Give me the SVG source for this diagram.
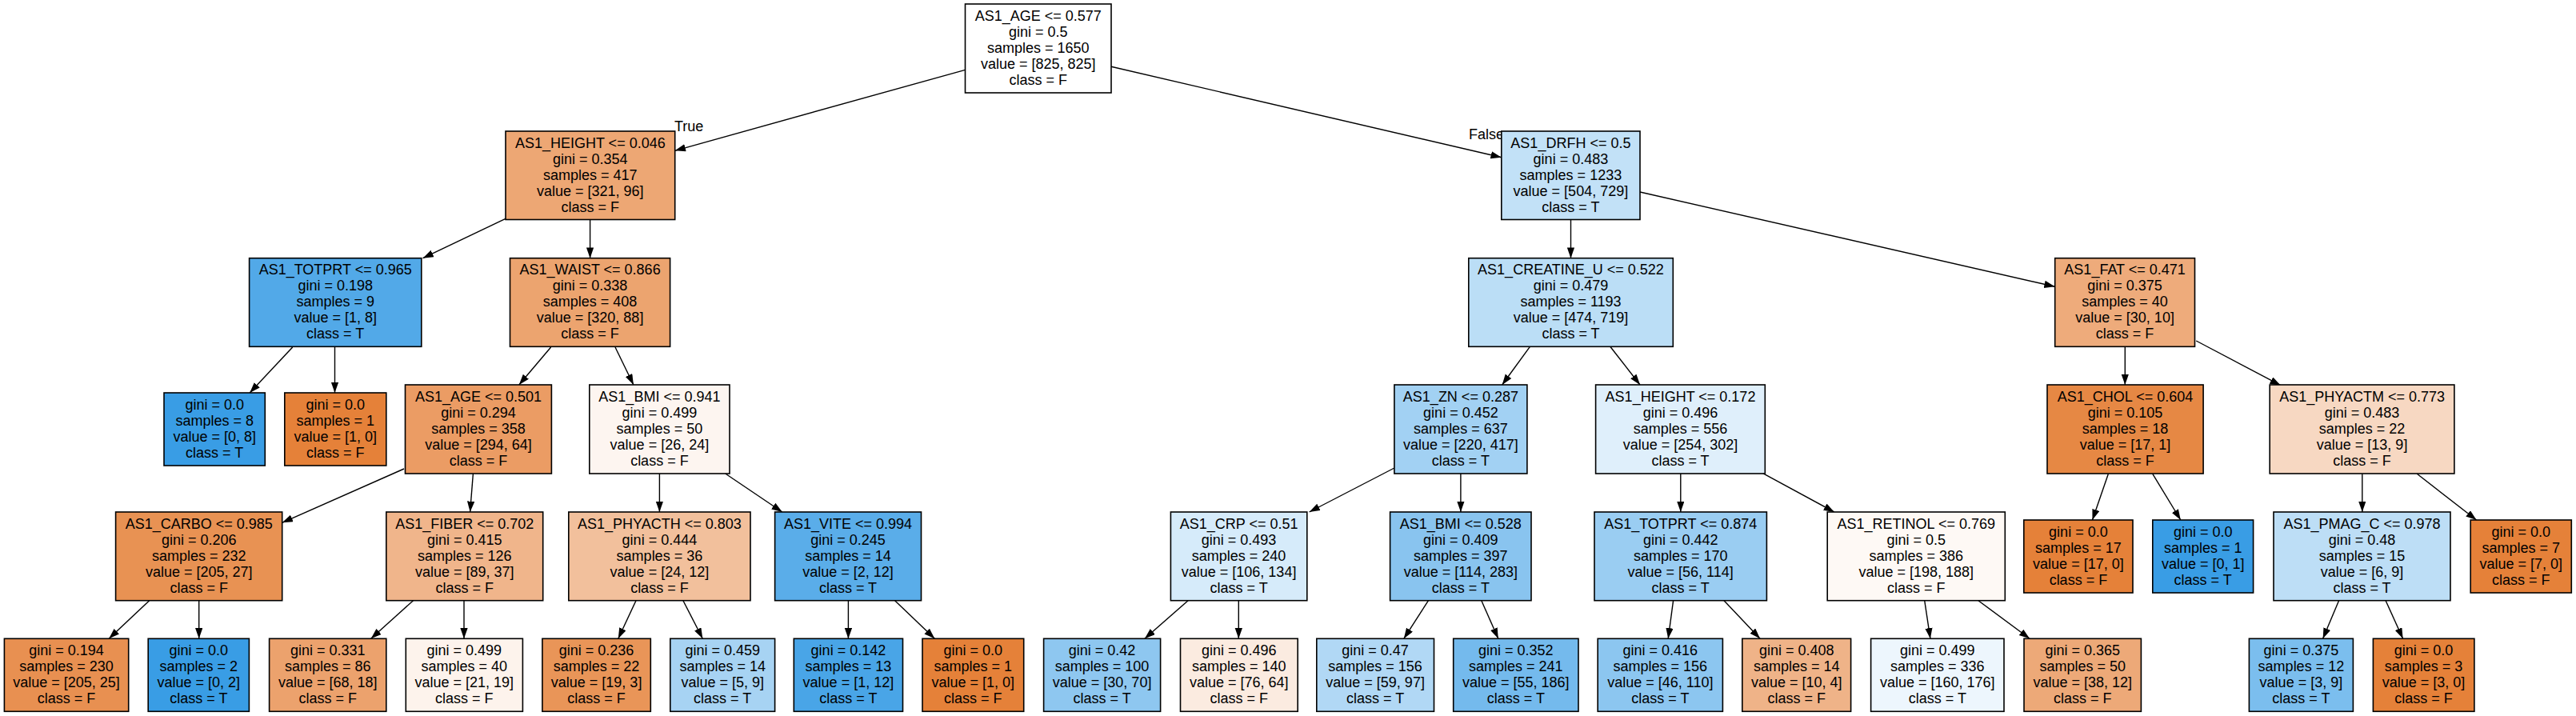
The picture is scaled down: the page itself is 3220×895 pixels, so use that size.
<svg xmlns="http://www.w3.org/2000/svg" width="3220" height="895" viewBox="0 0 3220 895">
<style>
.n rect{stroke:#000;stroke-width:1.6}
.n text{font-family:"Liberation Sans",Arial,sans-serif;font-size:18px;text-anchor:middle;fill:#000}
.lbl{font-family:"Liberation Sans",Arial,sans-serif;font-size:18px;fill:#000}
#edges line{stroke:#000;stroke-width:1.4;marker-end:url(#ah)}
</style>
<defs>
<marker id="ah" markerUnits="userSpaceOnUse" markerWidth="14" markerHeight="10" refX="13.3" refY="4.65" orient="auto"><path d="M0,0 L13.3,4.65 L0,9.3 z" fill="#000"/></marker>
</defs>
<rect width="3220" height="895" fill="#fff"/>
<g id="edges">
<line x1="1206.5" y1="87.3" x2="843.7" y2="188.3"/>
<line x1="1389" y1="83.3" x2="1876.8" y2="196.7"/>
<line x1="631.9" y1="273.3" x2="528.6" y2="322.7"/>
<line x1="737.6" y1="274.3" x2="737.6" y2="322.7"/>
<line x1="365.7" y1="434" x2="312.2" y2="491"/>
<line x1="418.5" y1="434" x2="418.5" y2="491"/>
<line x1="688.6" y1="434" x2="648.8" y2="481"/>
<line x1="769" y1="434" x2="791.9" y2="481"/>
<line x1="505" y1="586" x2="352.7" y2="653.3"/>
<line x1="591.4" y1="592" x2="587.6" y2="640"/>
<line x1="186.7" y1="750.7" x2="136.2" y2="798.3"/>
<line x1="248.7" y1="750.7" x2="248.7" y2="798.3"/>
<line x1="516.5" y1="750.7" x2="463.7" y2="798.3"/>
<line x1="580" y1="750.7" x2="580" y2="798.3"/>
<line x1="824.4" y1="592" x2="824.4" y2="640"/>
<line x1="906.7" y1="592" x2="977.8" y2="640"/>
<line x1="795" y1="750.7" x2="772.8" y2="798.3"/>
<line x1="853.9" y1="750.7" x2="878.3" y2="798.3"/>
<line x1="1060.4" y1="750.7" x2="1060.4" y2="798.3"/>
<line x1="1118.6" y1="750.7" x2="1168.3" y2="798.3"/>
<line x1="1963.5" y1="274.3" x2="1963.5" y2="322.7"/>
<line x1="2050" y1="240" x2="2568.6" y2="358.3"/>
<line x1="1912.4" y1="433.3" x2="1877.7" y2="481"/>
<line x1="2012.8" y1="433.3" x2="2050" y2="481"/>
<line x1="1742.9" y1="585" x2="1636.6" y2="640"/>
<line x1="1825.9" y1="592" x2="1825.9" y2="640"/>
<line x1="1485.1" y1="750.7" x2="1430.9" y2="798.3"/>
<line x1="1548.3" y1="750.7" x2="1548.3" y2="798.3"/>
<line x1="1785.5" y1="750.7" x2="1754.8" y2="798.3"/>
<line x1="1851.8" y1="750.7" x2="1872.8" y2="798.3"/>
<line x1="2100.8" y1="592" x2="2100.8" y2="640"/>
<line x1="2203.6" y1="591.7" x2="2292.9" y2="640"/>
<line x1="2091.6" y1="750.7" x2="2085.2" y2="798.3"/>
<line x1="2155" y1="750.7" x2="2200" y2="798.3"/>
<line x1="2405.7" y1="750.7" x2="2412.9" y2="798.3"/>
<line x1="2472.9" y1="750.7" x2="2537.1" y2="798.3"/>
<line x1="2656.3" y1="433.3" x2="2656.3" y2="481"/>
<line x1="2745.2" y1="426" x2="2850.8" y2="481.7"/>
<line x1="2635.4" y1="592.3" x2="2615.5" y2="650"/>
<line x1="2690.8" y1="592.3" x2="2725.8" y2="650"/>
<line x1="2952.8" y1="592.3" x2="2952.8" y2="640"/>
<line x1="3021.3" y1="592.3" x2="3095.6" y2="650"/>
<line x1="2923.6" y1="750.7" x2="2903.6" y2="798.3"/>
<line x1="2982.1" y1="750.7" x2="3003.6" y2="798.3"/>
<text class="lbl" x="843" y="164">True</text>
<text class="lbl" x="1836" y="174">False</text>
</g>
<g id="n0" class="n"><rect x="1206.5" y="5" width="182.5" height="111" fill="#ffffff"/><text><tspan x="1297.7" y="26">AS1_AGE &lt;= 0.577</tspan><tspan x="1297.7" y="46">gini = 0.5</tspan><tspan x="1297.7" y="66">samples = 1650</tspan><tspan x="1297.7" y="86">value = [825, 825]</tspan><tspan x="1297.7" y="106">class = F</tspan></text></g>
<g id="n1" class="n"><rect x="632" y="164" width="211.7" height="110.5" fill="#eda774"/><text><tspan x="737.8" y="184.5">AS1_HEIGHT &lt;= 0.046</tspan><tspan x="737.8" y="204.5">gini = 0.354</tspan><tspan x="737.8" y="224.5">samples = 417</tspan><tspan x="737.8" y="244.5">value = [321, 96]</tspan><tspan x="737.8" y="264.5">class = F</tspan></text></g>
<g id="n2" class="n"><rect x="311.6" y="322.7" width="215.2" height="110.6" fill="#52a9e8"/><text><tspan x="419.2" y="343.2">AS1_TOTPRT &lt;= 0.965</tspan><tspan x="419.2" y="363.2">gini = 0.198</tspan><tspan x="419.2" y="383.2">samples = 9</tspan><tspan x="419.2" y="403.2">value = [1, 8]</tspan><tspan x="419.2" y="423.2">class = T</tspan></text></g>
<g id="n3" class="n"><rect x="205" y="491" width="126.3" height="91" fill="#399de5"/><text><tspan x="268.2" y="512">gini = 0.0</tspan><tspan x="268.2" y="532">samples = 8</tspan><tspan x="268.2" y="552">value = [0, 8]</tspan><tspan x="268.2" y="572">class = T</tspan></text></g>
<g id="n4" class="n"><rect x="355.8" y="491" width="127" height="91" fill="#e58139"/><text><tspan x="419.3" y="512">gini = 0.0</tspan><tspan x="419.3" y="532">samples = 1</tspan><tspan x="419.3" y="552">value = [1, 0]</tspan><tspan x="419.3" y="572">class = F</tspan></text></g>
<g id="n5" class="n"><rect x="637.5" y="322.7" width="200.1" height="110.6" fill="#eca46f"/><text><tspan x="737.6" y="343.2">AS1_WAIST &lt;= 0.866</tspan><tspan x="737.6" y="363.2">gini = 0.338</tspan><tspan x="737.6" y="383.2">samples = 408</tspan><tspan x="737.6" y="403.2">value = [320, 88]</tspan><tspan x="737.6" y="423.2">class = F</tspan></text></g>
<g id="n6" class="n"><rect x="506.5" y="481" width="182.9" height="111" fill="#eb9c64"/><text><tspan x="598" y="501.5">AS1_AGE &lt;= 0.501</tspan><tspan x="598" y="521.5">gini = 0.294</tspan><tspan x="598" y="541.5">samples = 358</tspan><tspan x="598" y="561.5">value = [294, 64]</tspan><tspan x="598" y="581.5">class = F</tspan></text></g>
<g id="n7" class="n"><rect x="144.6" y="640" width="208.1" height="110.7" fill="#e89253"/><text><tspan x="248.7" y="660.5">AS1_CARBO &lt;= 0.985</tspan><tspan x="248.7" y="680.5">gini = 0.206</tspan><tspan x="248.7" y="700.5">samples = 232</tspan><tspan x="248.7" y="720.5">value = [205, 27]</tspan><tspan x="248.7" y="740.5">class = F</tspan></text></g>
<g id="n8" class="n"><rect x="5.4" y="798.3" width="155.3" height="91" fill="#e89051"/><text><tspan x="83" y="819.3">gini = 0.194</tspan><tspan x="83" y="839.3">samples = 230</tspan><tspan x="83" y="859.3">value = [205, 25]</tspan><tspan x="83" y="879.3">class = F</tspan></text></g>
<g id="n9" class="n"><rect x="185.2" y="798.3" width="126.2" height="91" fill="#399de5"/><text><tspan x="248.3" y="819.3">gini = 0.0</tspan><tspan x="248.3" y="839.3">samples = 2</tspan><tspan x="248.3" y="859.3">value = [0, 2]</tspan><tspan x="248.3" y="879.3">class = T</tspan></text></g>
<g id="n10" class="n"><rect x="482.8" y="640" width="195.9" height="110.7" fill="#f0b58b"/><text><tspan x="580.7" y="660.5">AS1_FIBER &lt;= 0.702</tspan><tspan x="580.7" y="680.5">gini = 0.415</tspan><tspan x="580.7" y="700.5">samples = 126</tspan><tspan x="580.7" y="720.5">value = [89, 37]</tspan><tspan x="580.7" y="740.5">class = F</tspan></text></g>
<g id="n11" class="n"><rect x="336.6" y="798.3" width="146.2" height="91" fill="#eca26d"/><text><tspan x="409.7" y="819.3">gini = 0.331</tspan><tspan x="409.7" y="839.3">samples = 86</tspan><tspan x="409.7" y="859.3">value = [68, 18]</tspan><tspan x="409.7" y="879.3">class = F</tspan></text></g>
<g id="n12" class="n"><rect x="507.3" y="798.3" width="146.1" height="91" fill="#fdf3ec"/><text><tspan x="580.3" y="819.3">gini = 0.499</tspan><tspan x="580.3" y="839.3">samples = 40</tspan><tspan x="580.3" y="859.3">value = [21, 19]</tspan><tspan x="580.3" y="879.3">class = F</tspan></text></g>
<g id="n13" class="n"><rect x="736.8" y="481" width="175.2" height="111" fill="#fdf5f0"/><text><tspan x="824.4" y="501.5">AS1_BMI &lt;= 0.941</tspan><tspan x="824.4" y="521.5">gini = 0.499</tspan><tspan x="824.4" y="541.5">samples = 50</tspan><tspan x="824.4" y="561.5">value = [26, 24]</tspan><tspan x="824.4" y="581.5">class = F</tspan></text></g>
<g id="n14" class="n"><rect x="710.8" y="640" width="227.2" height="110.7" fill="#f2c09c"/><text><tspan x="824.4" y="660.5">AS1_PHYACTH &lt;= 0.803</tspan><tspan x="824.4" y="680.5">gini = 0.444</tspan><tspan x="824.4" y="700.5">samples = 36</tspan><tspan x="824.4" y="720.5">value = [24, 12]</tspan><tspan x="824.4" y="740.5">class = F</tspan></text></g>
<g id="n15" class="n"><rect x="677.9" y="798.3" width="135.4" height="91" fill="#e99558"/><text><tspan x="745.6" y="819.3">gini = 0.236</tspan><tspan x="745.6" y="839.3">samples = 22</tspan><tspan x="745.6" y="859.3">value = [19, 3]</tspan><tspan x="745.6" y="879.3">class = F</tspan></text></g>
<g id="n16" class="n"><rect x="837.8" y="798.3" width="130.8" height="91" fill="#a7d3f3"/><text><tspan x="903.2" y="819.3">gini = 0.459</tspan><tspan x="903.2" y="839.3">samples = 14</tspan><tspan x="903.2" y="859.3">value = [5, 9]</tspan><tspan x="903.2" y="879.3">class = T</tspan></text></g>
<g id="n17" class="n"><rect x="968.6" y="640" width="182.9" height="110.7" fill="#5aade9"/><text><tspan x="1060" y="660.5">AS1_VITE &lt;= 0.994</tspan><tspan x="1060" y="680.5">gini = 0.245</tspan><tspan x="1060" y="700.5">samples = 14</tspan><tspan x="1060" y="720.5">value = [2, 12]</tspan><tspan x="1060" y="740.5">class = T</tspan></text></g>
<g id="n18" class="n"><rect x="992.3" y="798.3" width="136.2" height="91" fill="#49a5e7"/><text><tspan x="1060.4" y="819.3">gini = 0.142</tspan><tspan x="1060.4" y="839.3">samples = 13</tspan><tspan x="1060.4" y="859.3">value = [1, 12]</tspan><tspan x="1060.4" y="879.3">class = T</tspan></text></g>
<g id="n19" class="n"><rect x="1153" y="798.3" width="126.7" height="91" fill="#e58139"/><text><tspan x="1216.3" y="819.3">gini = 0.0</tspan><tspan x="1216.3" y="839.3">samples = 1</tspan><tspan x="1216.3" y="859.3">value = [1, 0]</tspan><tspan x="1216.3" y="879.3">class = F</tspan></text></g>
<g id="n20" class="n"><rect x="1876.8" y="164" width="173.2" height="110.5" fill="#c2e1f7"/><text><tspan x="1963.4" y="184.5">AS1_DRFH &lt;= 0.5</tspan><tspan x="1963.4" y="204.5">gini = 0.483</tspan><tspan x="1963.4" y="224.5">samples = 1233</tspan><tspan x="1963.4" y="244.5">value = [504, 729]</tspan><tspan x="1963.4" y="264.5">class = T</tspan></text></g>
<g id="n21" class="n"><rect x="1835.8" y="322.7" width="255.5" height="110.6" fill="#bbdef6"/><text><tspan x="1963.5" y="343.2">AS1_CREATINE_U &lt;= 0.522</tspan><tspan x="1963.5" y="363.2">gini = 0.479</tspan><tspan x="1963.5" y="383.2">samples = 1193</tspan><tspan x="1963.5" y="403.2">value = [474, 719]</tspan><tspan x="1963.5" y="423.2">class = T</tspan></text></g>
<g id="n22" class="n"><rect x="1742.9" y="481" width="166" height="111" fill="#a2d1f3"/><text><tspan x="1825.9" y="501.5">AS1_ZN &lt;= 0.287</tspan><tspan x="1825.9" y="521.5">gini = 0.452</tspan><tspan x="1825.9" y="541.5">samples = 637</tspan><tspan x="1825.9" y="561.5">value = [220, 417]</tspan><tspan x="1825.9" y="581.5">class = T</tspan></text></g>
<g id="n23" class="n"><rect x="1463.4" y="640" width="170.4" height="110.7" fill="#d6ebfa"/><text><tspan x="1548.6" y="660.5">AS1_CRP &lt;= 0.51</tspan><tspan x="1548.6" y="680.5">gini = 0.493</tspan><tspan x="1548.6" y="700.5">samples = 240</tspan><tspan x="1548.6" y="720.5">value = [106, 134]</tspan><tspan x="1548.6" y="740.5">class = T</tspan></text></g>
<g id="n24" class="n"><rect x="1304.6" y="798.3" width="146" height="91" fill="#8ec7f0"/><text><tspan x="1377.6" y="819.3">gini = 0.42</tspan><tspan x="1377.6" y="839.3">samples = 100</tspan><tspan x="1377.6" y="859.3">value = [30, 70]</tspan><tspan x="1377.6" y="879.3">class = T</tspan></text></g>
<g id="n25" class="n"><rect x="1475.5" y="798.3" width="146.7" height="91" fill="#fbebe0"/><text><tspan x="1548.8" y="819.3">gini = 0.496</tspan><tspan x="1548.8" y="839.3">samples = 140</tspan><tspan x="1548.8" y="859.3">value = [76, 64]</tspan><tspan x="1548.8" y="879.3">class = F</tspan></text></g>
<g id="n26" class="n"><rect x="1737.6" y="640" width="176.4" height="110.7" fill="#89c4ef"/><text><tspan x="1825.8" y="660.5">AS1_BMI &lt;= 0.528</tspan><tspan x="1825.8" y="680.5">gini = 0.409</tspan><tspan x="1825.8" y="700.5">samples = 397</tspan><tspan x="1825.8" y="720.5">value = [114, 283]</tspan><tspan x="1825.8" y="740.5">class = T</tspan></text></g>
<g id="n27" class="n"><rect x="1645.8" y="798.3" width="146.7" height="91" fill="#b1d8f5"/><text><tspan x="1719.1" y="819.3">gini = 0.47</tspan><tspan x="1719.1" y="839.3">samples = 156</tspan><tspan x="1719.1" y="859.3">value = [59, 97]</tspan><tspan x="1719.1" y="879.3">class = T</tspan></text></g>
<g id="n28" class="n"><rect x="1816.7" y="798.3" width="156.3" height="91" fill="#74baed"/><text><tspan x="1894.8" y="819.3">gini = 0.352</tspan><tspan x="1894.8" y="839.3">samples = 241</tspan><tspan x="1894.8" y="859.3">value = [55, 186]</tspan><tspan x="1894.8" y="879.3">class = T</tspan></text></g>
<g id="n29" class="n"><rect x="1994.6" y="481" width="211.7" height="111" fill="#dfeffb"/><text><tspan x="2100.5" y="501.5">AS1_HEIGHT &lt;= 0.172</tspan><tspan x="2100.5" y="521.5">gini = 0.496</tspan><tspan x="2100.5" y="541.5">samples = 556</tspan><tspan x="2100.5" y="561.5">value = [254, 302]</tspan><tspan x="2100.5" y="581.5">class = T</tspan></text></g>
<g id="n30" class="n"><rect x="1993" y="640" width="215.4" height="110.7" fill="#9acdf2"/><text><tspan x="2100.7" y="660.5">AS1_TOTPRT &lt;= 0.874</tspan><tspan x="2100.7" y="680.5">gini = 0.442</tspan><tspan x="2100.7" y="700.5">samples = 170</tspan><tspan x="2100.7" y="720.5">value = [56, 114]</tspan><tspan x="2100.7" y="740.5">class = T</tspan></text></g>
<g id="n31" class="n"><rect x="1997.2" y="798.3" width="156.2" height="91" fill="#8cc6f0"/><text><tspan x="2075.3" y="819.3">gini = 0.416</tspan><tspan x="2075.3" y="839.3">samples = 156</tspan><tspan x="2075.3" y="859.3">value = [46, 110]</tspan><tspan x="2075.3" y="879.3">class = T</tspan></text></g>
<g id="n32" class="n"><rect x="2177.8" y="798.3" width="135.8" height="91" fill="#efb388"/><text><tspan x="2245.7" y="819.3">gini = 0.408</tspan><tspan x="2245.7" y="839.3">samples = 14</tspan><tspan x="2245.7" y="859.3">value = [10, 4]</tspan><tspan x="2245.7" y="879.3">class = F</tspan></text></g>
<g id="n33" class="n"><rect x="2284.2" y="640" width="222.1" height="110.7" fill="#fef9f5"/><text><tspan x="2395.3" y="660.5">AS1_RETINOL &lt;= 0.769</tspan><tspan x="2395.3" y="680.5">gini = 0.5</tspan><tspan x="2395.3" y="700.5">samples = 386</tspan><tspan x="2395.3" y="720.5">value = [198, 188]</tspan><tspan x="2395.3" y="740.5">class = F</tspan></text></g>
<g id="n34" class="n"><rect x="2338.6" y="798.3" width="166.4" height="91" fill="#edf6fd"/><text><tspan x="2421.8" y="819.3">gini = 0.499</tspan><tspan x="2421.8" y="839.3">samples = 336</tspan><tspan x="2421.8" y="859.3">value = [160, 176]</tspan><tspan x="2421.8" y="879.3">class = T</tspan></text></g>
<g id="n35" class="n"><rect x="2530" y="798.3" width="146.4" height="91" fill="#eda978"/><text><tspan x="2603.2" y="819.3">gini = 0.365</tspan><tspan x="2603.2" y="839.3">samples = 50</tspan><tspan x="2603.2" y="859.3">value = [38, 12]</tspan><tspan x="2603.2" y="879.3">class = F</tspan></text></g>
<g id="n36" class="n"><rect x="2568.7" y="322.7" width="174.8" height="110.6" fill="#eeab7b"/><text><tspan x="2656.1" y="343.2">AS1_FAT &lt;= 0.471</tspan><tspan x="2656.1" y="363.2">gini = 0.375</tspan><tspan x="2656.1" y="383.2">samples = 40</tspan><tspan x="2656.1" y="403.2">value = [30, 10]</tspan><tspan x="2656.1" y="423.2">class = F</tspan></text></g>
<g id="n37" class="n"><rect x="2559" y="481" width="195.1" height="111" fill="#e68844"/><text><tspan x="2656.5" y="501.5">AS1_CHOL &lt;= 0.604</tspan><tspan x="2656.5" y="521.5">gini = 0.105</tspan><tspan x="2656.5" y="541.5">samples = 18</tspan><tspan x="2656.5" y="561.5">value = [17, 1]</tspan><tspan x="2656.5" y="581.5">class = F</tspan></text></g>
<g id="n38" class="n"><rect x="2529.8" y="650" width="136.2" height="91" fill="#e58139"/><text><tspan x="2597.9" y="671">gini = 0.0</tspan><tspan x="2597.9" y="691">samples = 17</tspan><tspan x="2597.9" y="711">value = [17, 0]</tspan><tspan x="2597.9" y="731">class = F</tspan></text></g>
<g id="n39" class="n"><rect x="2690.8" y="650" width="125.8" height="91" fill="#399de5"/><text><tspan x="2753.7" y="671">gini = 0.0</tspan><tspan x="2753.7" y="691">samples = 1</tspan><tspan x="2753.7" y="711">value = [0, 1]</tspan><tspan x="2753.7" y="731">class = T</tspan></text></g>
<g id="n40" class="n"><rect x="2837.2" y="481" width="230.7" height="111" fill="#f7d8c2"/><text><tspan x="2952.6" y="501.5">AS1_PHYACTM &lt;= 0.773</tspan><tspan x="2952.6" y="521.5">gini = 0.483</tspan><tspan x="2952.6" y="541.5">samples = 22</tspan><tspan x="2952.6" y="561.5">value = [13, 9]</tspan><tspan x="2952.6" y="581.5">class = F</tspan></text></g>
<g id="n41" class="n"><rect x="2842" y="640" width="221" height="110.7" fill="#bddef6"/><text><tspan x="2952.5" y="660.5">AS1_PMAG_C &lt;= 0.978</tspan><tspan x="2952.5" y="680.5">gini = 0.48</tspan><tspan x="2952.5" y="700.5">samples = 15</tspan><tspan x="2952.5" y="720.5">value = [6, 9]</tspan><tspan x="2952.5" y="740.5">class = T</tspan></text></g>
<g id="n42" class="n"><rect x="2811.4" y="798.3" width="130" height="91" fill="#7bbeee"/><text><tspan x="2876.4" y="819.3">gini = 0.375</tspan><tspan x="2876.4" y="839.3">samples = 12</tspan><tspan x="2876.4" y="859.3">value = [3, 9]</tspan><tspan x="2876.4" y="879.3">class = T</tspan></text></g>
<g id="n43" class="n"><rect x="2966.4" y="798.3" width="126.5" height="91" fill="#e58139"/><text><tspan x="3029.6" y="819.3">gini = 0.0</tspan><tspan x="3029.6" y="839.3">samples = 3</tspan><tspan x="3029.6" y="859.3">value = [3, 0]</tspan><tspan x="3029.6" y="879.3">class = F</tspan></text></g>
<g id="n44" class="n"><rect x="3088.2" y="650" width="126.1" height="91" fill="#e58139"/><text><tspan x="3151.2" y="671">gini = 0.0</tspan><tspan x="3151.2" y="691">samples = 7</tspan><tspan x="3151.2" y="711">value = [7, 0]</tspan><tspan x="3151.2" y="731">class = F</tspan></text></g>
</svg>
